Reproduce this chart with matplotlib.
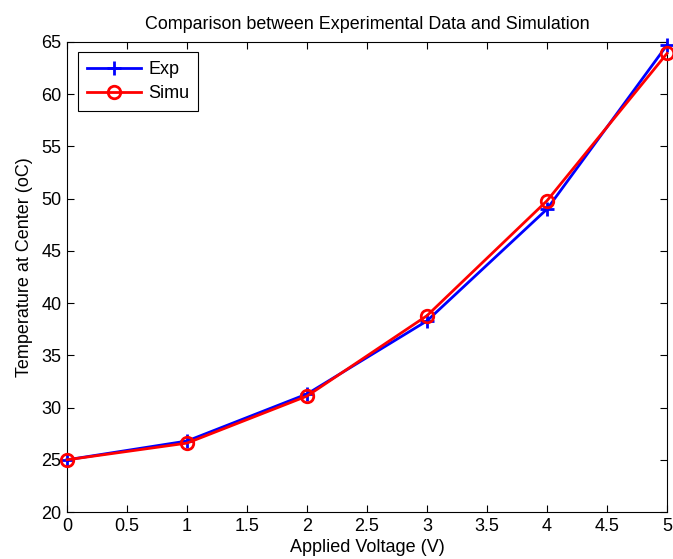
import matplotlib
matplotlib.use("Agg")
import matplotlib.pyplot as plt

plt.rcParams['font.family'] = ['Liberation Sans', 'DejaVu Sans']

voltage = [0, 1, 2, 3, 4, 5]
exp_temp = [25.0, 26.8, 31.3, 38.3, 49.0, 64.7]
simu_temp = [25.0, 26.6, 31.1, 38.8, 49.8, 63.9]

xticks = [0, 0.5, 1, 1.5, 2, 2.5, 3, 3.5, 4, 4.5, 5]
xticklabels = ['0', '0.5', '1', '1.5', '2', '2.5', '3', '3.5', '4', '4.5', '5']
yticks = [20, 25, 30, 35, 40, 45, 50, 55, 60, 65]

fig = plt.figure(figsize=(6.73, 5.59), dpi=100)
ax = fig.add_axes([0.0996, 0.084, 0.8915, 0.841])

ax.plot(voltage, exp_temp, color='#0000ff', lw=2, marker='+', ms=10, mew=2, label='Exp', clip_on=False, zorder=3)
ax.plot(voltage, simu_temp, color='#ff0000', lw=2, marker='o', ms=9, mew=2, mfc='none', label='Simu', clip_on=False, zorder=3)

ax.set_xlim(0, 5)
ax.set_ylim(20, 65)
ax.set_xticks(xticks)
ax.set_xticklabels(xticklabels)
ax.set_yticks(yticks)
ax.tick_params(direction='in', top=True, right=True, length=5, width=0.8, labelsize=13, pad=4)
for s in ax.spines.values():
    s.set_linewidth(0.8)

ax.set_title('Comparison between Experimental Data and Simulation', fontsize=12.9, pad=9)
ax.set_xlabel('Applied Voltage (V)', fontsize=13, labelpad=3)
ax.set_ylabel('Temperature at Center (oC)', fontsize=13)
ax.yaxis.set_label_coords(-0.057, 0.521)

leg = ax.legend(loc='upper left', fontsize=13, fancybox=False, edgecolor='black',
                framealpha=1, borderpad=0.5, handlelength=3.0, handletextpad=0.4,
                labelspacing=0.42, borderaxespad=0, bbox_to_anchor=(0.018, 0.979))
leg.get_frame().set_linewidth(0.8)

fig.savefig('out.png', dpi=100)
